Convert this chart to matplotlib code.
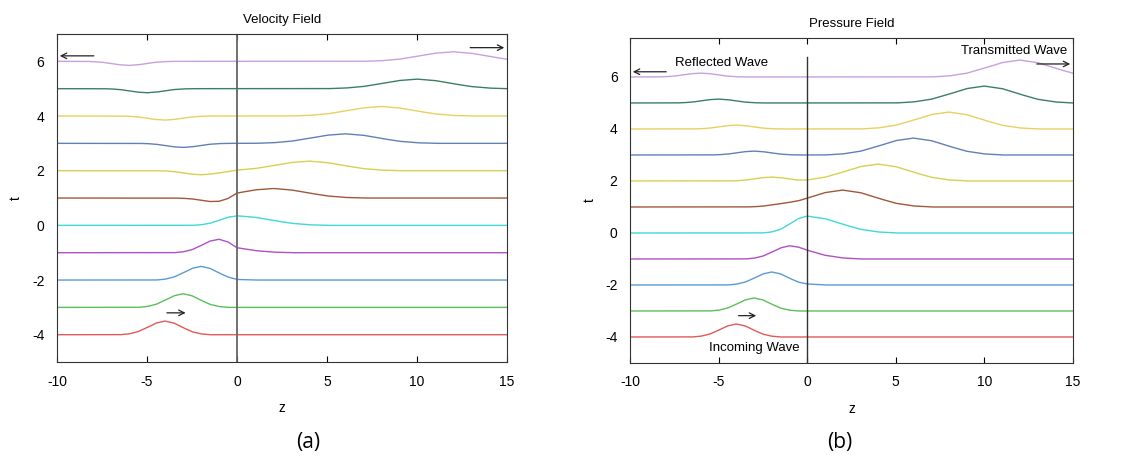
import matplotlib.pyplot as plt
import numpy as np

# time levels (each curve is offset to its t value)
t_levels = [-4, -3, -2, -1, 0, 1, 2, 3, 4, 5, 6]
colors = ['#e05a5a', '#5cbf5c', '#5a9bd5', '#b050c8', '#40d8d8', '#a0583a',
          '#d8d050', '#6080b8', '#e8d060', '#3a8060', '#c8a0e0']

# pulse shape (offset in z, relative height)
pulse_dz = [-2.5, -2.0, -1.5, -1.0, -0.5, 0.0, 0.5, 1.0, 1.5, 2.0, 2.5]
pulse_h = [0.0, 0.06, 0.22, 0.52, 0.85, 1.0, 0.85, 0.52, 0.22, 0.06, 0.0]

# pulse centres at each time level
inc_center = [-4, -3, -2, -1, 0, 1, 2, 3, 4, 5, 6]
refl_center = [4, 3, 2, 1, 0, -1, -2, -3, -4, -5, -6]
trans_center = [-8, -6, -4, -2, 0, 2, 4, 6, 8, 10, 12]
trans_stretch = 2.0

# pulse heights, velocity field
vel_inc = [0.5] * 11
vel_refl = [-0.15] * 11
vel_trans = [0.35] * 11

# pulse heights, pressure field
pre_inc = [0.5] * 11
pre_refl = [0.15] * 11
pre_trans = [0.65] * 11

z = np.linspace(-10, 15, 1001)
dz = np.array(pulse_dz)
h = np.array(pulse_h)


def pulse(zz, c, a, s=1.0):
    return a * np.interp(zz - c, dz * s, h, left=0, right=0)


def draw(ax, inc, refl, trans):
    for i, t in enumerate(t_levels):
        left = pulse(z, inc_center[i], inc[i]) + pulse(-z, -refl_center[i], refl[i])
        right = pulse(z, trans_center[i], trans[i], trans_stretch)
        y = np.where(z < 0, left, right) + t
        ax.plot(z, y, color=colors[i], lw=1.0)
    ax.set_xlim(-10, 15)
    ax.set_xticks([-10, -5, 0, 5, 10, 15])
    ax.set_yticks([-4, -2, 0, 2, 4, 6])
    ax.tick_params(axis='x', direction='in', top=True, length=4, labelsize=10, pad=9)
    ax.tick_params(axis='y', length=0, labelsize=10, pad=9)
    ax.set_xlabel('z', fontsize=10, labelpad=9)
    ax.set_ylabel('t', fontsize=10)
    ax.yaxis.set_label_coords(-0.075, 0.5)
    for sp in ax.spines.values():
        sp.set_color('#333333')


def arrow(ax, x0, x1, y):
    ax.annotate('', xy=(x1, y), xytext=(x0, y),
                arrowprops=dict(arrowstyle='->', color='#222222', lw=0.9))


plt.rcParams['font.family'] = ['Liberation Sans', 'DejaVu Sans']
plt.rcParams['axes.unicode_minus'] = False
fig = plt.figure(figsize=(11.24, 4.63), dpi=100)

ax1 = fig.add_axes([0.0507, 0.218, 0.4004, 0.7086])
draw(ax1, vel_inc, vel_refl, vel_trans)
ax1.set_ylim(-5, 7)
ax1.axvline(0, color='#666666', lw=1.3)
ax1.set_title('Velocity Field', fontsize=9.5, pad=8)
arrow(ax1, -7.8, -10, 6.2)
arrow(ax1, 12.8, 15, 6.5)
arrow(ax1, -4.05, -2.7, -3.2)

ax2 = fig.add_axes([0.5605, 0.216, 0.3941, 0.702])
draw(ax2, pre_inc, pre_refl, pre_trans)
ax2.set_ylim(-5, 7.5)
ax2.plot([0, 0], [-5, 6.78], color='#333333', lw=1.0)
ax2.set_title('Pressure Field', fontsize=9.5, pad=8)
arrow(ax2, -7.8, -10, 6.2)
arrow(ax2, 12.8, 15, 6.5)
arrow(ax2, -4.03, -2.72, -3.18)
ax2.text(-7.45, 6.55, 'Reflected Wave', fontsize=9.5, va='center', ha='left')
ax2.text(14.7, 7.0, 'Transmitted Wave', fontsize=9.5, va='center', ha='right')
ax2.text(-3.0, -4.42, 'Incoming Wave', fontsize=9.5, va='center', ha='center')

fig.text(0.2745, 0.045, '(a)', fontsize=15, ha='center', va='center', family='Open Sans')
fig.text(0.7475, 0.045, '(b)', fontsize=15, ha='center', va='center', family='Open Sans')

fig.savefig('out.png', dpi=100)
